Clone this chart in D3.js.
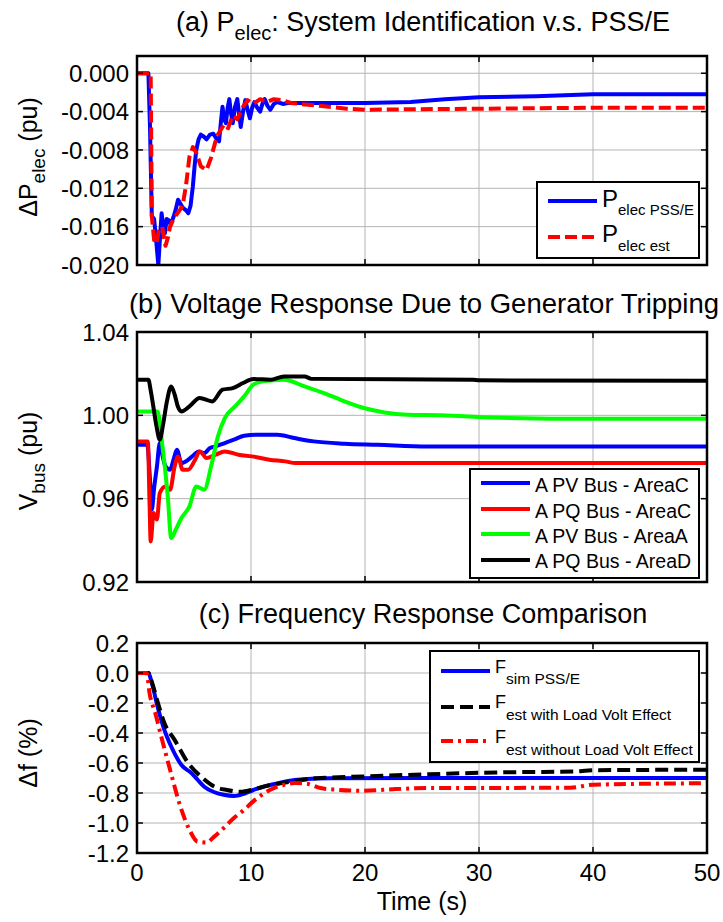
<!DOCTYPE html>
<html>
<head>
<meta charset="utf-8">
<script src="https://cdn.jsdelivr.net/npm/d3@7"></script>
<style>
  body { margin: 0; background: #fff; }
  svg { display: block; font-family: "Liberation Sans", Arial, sans-serif; }
</style>
</head>
<body>
<div id="chart"></div>
<script>
// ---- data ----
var timeTicks = [0, 10, 20, 30, 40, 50];

// (a) P_elec, pu
var pelecTicks = [0, -0.004, -0.008, -0.012, -0.016, -0.020];
var pelecPss = [[0,0],[1.0,0],[1.14,-0.0056],[1.3,-0.0149],[1.5,-0.0152],[1.65,-0.017],[1.87,-0.020],[2.0,-0.0175],[2.16,-0.0146],[2.3,-0.016],[2.45,-0.0167],[2.6,-0.0152],[2.75,-0.0153],[2.95,-0.0158],[3.2,-0.0150],[3.4,-0.0142],[3.6,-0.0132],[3.8,-0.0136],[4.0,-0.0140],[4.3,-0.0143],[4.5,-0.0146],[4.7,-0.0138],[4.9,-0.0118],[5.05,-0.0097],[5.2,-0.0080],[5.4,-0.0069],[5.6,-0.0064],[5.85,-0.0066],[6.1,-0.0069],[6.4,-0.0064],[6.7,-0.0063],[6.95,-0.0068],[7.2,-0.0071],[7.35,-0.0052],[7.5,-0.0035],[7.65,-0.0048],[7.8,-0.0052],[7.95,-0.0036],[8.1,-0.0027],[8.25,-0.0042],[8.4,-0.0052],[8.6,-0.0035],[8.8,-0.0027],[8.95,-0.0042],[9.1,-0.0056],[9.3,-0.0040],[9.5,-0.0028],[9.7,-0.0038],[9.9,-0.0047],[10.1,-0.0036],[10.3,-0.0030],[10.55,-0.0036],[10.8,-0.0040],[11.0,-0.0032],[11.2,-0.0027],[11.45,-0.0034],[11.7,-0.0038],[12.0,-0.0032],[12.3,-0.0030],[12.8,-0.0032],[13.2,-0.0031],[20,-0.0031],[24,-0.0030],[27,-0.0027],[30,-0.0025],[35,-0.0024],[40,-0.0022],[50,-0.0022]];
var pelecEst = [[0,0],[1.2,0],[1.3,-0.0149],[1.5,-0.0174],[1.7,-0.0178],[1.9,-0.0165],[2.2,-0.0160],[2.5,-0.0180],[2.7,-0.0172],[2.9,-0.0160],[3.2,-0.0152],[3.5,-0.0147],[3.8,-0.0142],[4.0,-0.0138],[4.3,-0.0117],[4.6,-0.0087],[4.9,-0.0077],[5.2,-0.0083],[5.6,-0.0097],[6.1,-0.0101],[6.5,-0.0088],[7.0,-0.0066],[7.5,-0.0056],[7.9,-0.0060],[8.4,-0.0044],[8.8,-0.0048],[9.3,-0.0035],[9.7,-0.0028],[10.2,-0.0032],[10.8,-0.0027],[11.4,-0.0030],[12.0,-0.0027],[12.7,-0.0028],[13.5,-0.0031],[14.3,-0.0032],[16,-0.0034],[18.4,-0.0037],[20,-0.0038],[30,-0.0037],[40,-0.0036],[50,-0.0036]];

// (b) bus voltage, pu
var vbusTicks = [0.92, 0.96, 1.00, 1.04];
var vPvAreaC = [[0,0.9859],[0.9,0.9859],[1.14,0.9691],[1.3,0.9547],[1.5,0.9651],[1.75,0.9755],[2.0,0.9867],[2.25,0.9803],[2.5,0.9755],[2.9,0.9739],[3.2,0.9787],[3.5,0.9835],[3.9,0.9771],[4.5,0.9787],[5.0,0.9811],[5.4,0.9827],[5.9,0.9819],[6.4,0.9843],[6.9,0.9851],[7.7,0.9867],[8.5,0.9883],[9.4,0.9902],[10.8,0.9907],[12.3,0.9907],[13.8,0.9891],[15.5,0.9875],[18.2,0.9864],[21.1,0.9859],[25.5,0.9851],[35,0.9851],[50,0.9851]];
var vPqAreaC = [[0,0.9875],[0.95,0.9875],[1.1,0.9580],[1.2,0.9395],[1.45,0.9531],[1.75,0.9500],[2.0,0.9627],[2.5,0.9659],[2.9,0.9643],[3.3,0.9755],[3.6,0.9803],[4.0,0.9739],[4.5,0.9739],[5.1,0.9787],[5.5,0.9827],[6.1,0.9795],[6.9,0.9811],[7.7,0.9827],[8.9,0.9811],[10.1,0.9803],[11.6,0.9787],[13.0,0.9779],[13.9,0.9771],[30,0.9771],[50,0.9771]];
var vPvAreaA = [[0,1.0019],[1.8,1.0019],[2.2,0.9867],[2.7,0.9611],[3.0,0.9411],[3.4,0.9451],[3.9,0.9507],[4.6,0.9563],[5.2,0.9659],[5.9,0.9643],[6.5,0.9755],[7.1,0.9899],[7.7,0.9987],[8.6,1.0043],[9.4,1.0091],[10.2,1.0147],[11.0,1.0163],[12.9,1.0171],[14.7,1.0139],[16.4,1.0107],[18.2,1.0067],[19.9,1.0035],[21.7,1.0014],[23.7,1.0003],[26.7,1.0000],[31.1,0.9990],[37.5,0.9984],[50,0.9984]];
var vPqAreaD = [[0,1.0171],[1.0,1.0171],[1.2,1.0120],[1.43,1.0043],[1.7,0.9950],[2.0,0.9883],[2.3,0.9960],[2.6,1.0060],[3.0,1.0139],[3.3,1.0100],[3.6,1.0040],[3.9,1.0019],[4.6,1.0043],[5.5,1.0083],[6.6,1.0067],[7.5,1.0123],[8.4,1.0131],[9.3,1.0155],[10.2,1.0175],[11.7,1.0171],[12.9,1.0187],[14.7,1.0187],[15.3,1.0175],[29.5,1.0171],[30,1.0168],[50,1.0166]];

// (c) frequency deviation, %
var freqTicks = [0.2, 0.0, -0.2, -0.4, -0.6, -0.8, -1.0, -1.2];
var fSimPss = [[0,0],[1.0,0],[1.3,-0.067],[1.8,-0.223],[2.4,-0.379],[3.0,-0.49],[3.9,-0.613],[4.8,-0.669],[5.3,-0.71],[5.9,-0.758],[6.8,-0.795],[7.6,-0.812],[8.5,-0.82],[9.4,-0.805],[10.2,-0.78],[11.1,-0.758],[12.3,-0.736],[13.4,-0.718],[14.6,-0.709],[16.9,-0.702],[25,-0.700],[50,-0.700]];
var fEstWith = [[0,0],[1.0,0],[1.3,-0.06],[1.8,-0.19],[2.4,-0.334],[3.3,-0.446],[4.5,-0.602],[5.6,-0.69],[6.8,-0.758],[7.9,-0.78],[9.1,-0.792],[10.2,-0.776],[11.7,-0.747],[13.4,-0.725],[15.7,-0.702],[19.8,-0.69],[25.6,-0.675],[31.5,-0.663],[38.2,-0.657],[40,-0.648],[50,-0.645]];
var fEstWithout = [[0,0],[0.85,0],[1.1,-0.134],[1.6,-0.267],[2.2,-0.445],[2.9,-0.645],[3.8,-0.889],[4.6,-1.045],[5.3,-1.123],[6.1,-1.13],[6.8,-1.089],[7.6,-1.034],[8.5,-0.967],[9.4,-0.912],[10.2,-0.856],[11.1,-0.805],[12.0,-0.767],[12.9,-0.745],[13.8,-0.734],[14.9,-0.738],[16.1,-0.767],[17.5,-0.778],[19.8,-0.785],[22.7,-0.774],[25.6,-0.767],[38,-0.765],[40,-0.745],[50,-0.735]];

// ---- drawing ----
var W = 723, H = 922;
var svg = d3.select("#chart").append("svg").attr("width", W).attr("height", H);

var x = d3.scaleLinear().domain([0, 50]).range([137, 707]);

function fmt(d, n) { return d.toFixed(n).replace("\u2212", "-"); }

function drawPanel(cfg) {
  var y = d3.scaleLinear().domain(cfg.domain).range([cfg.bottom, cfg.top]);
  var g = svg.append("g");
  var clipId = "clip-" + cfg.id;
  svg.append("clipPath").attr("id", clipId).append("rect")
    .attr("x", 137).attr("y", cfg.top).attr("width", 570).attr("height", cfg.bottom - cfg.top);

  // grid
  g.selectAll(".gx").data(timeTicks.slice(1, -1)).enter().append("line")
    .attr("x1", d => x(d)).attr("x2", d => x(d))
    .attr("y1", cfg.top).attr("y2", cfg.bottom)
    .style("stroke", "#b4b4b4").style("stroke-width", 1);
  g.selectAll(".gy").data(cfg.ticks.filter(d => y(d) > cfg.top + 2 && y(d) < cfg.bottom - 2)).enter().append("line")
    .attr("x1", 137).attr("x2", 707)
    .attr("y1", d => y(d)).attr("y2", d => y(d))
    .style("stroke", "#b4b4b4").style("stroke-width", 1);

  // series
  var line = d3.line().x(d => x(d[0])).y(d => y(d[1])).curve(cfg.curve || d3.curveLinear);
  var lines = g.append("g").attr("clip-path", "url(#" + clipId + ")");
  cfg.series.forEach(function(s) {
    lines.append("path")
      .attr("d", line(s.data))
      .style("fill", "none")
      .style("stroke", s.color)
      .style("stroke-width", 4)
      .style("stroke-linejoin", "round")
      .style("stroke-dasharray", s.dash || null);
  });

  // ticks (inside, all four sides)
  var tk = 6;
  timeTicks.forEach(function(t) {
    g.append("line").attr("x1", x(t)).attr("x2", x(t)).attr("y1", cfg.bottom).attr("y2", cfg.bottom - tk)
      .style("stroke", "#000").style("stroke-width", 1.5);
    g.append("line").attr("x1", x(t)).attr("x2", x(t)).attr("y1", cfg.top).attr("y2", cfg.top + tk)
      .style("stroke", "#000").style("stroke-width", 1.5);
  });
  cfg.ticks.forEach(function(v) {
    g.append("line").attr("x1", 137).attr("x2", 137 + tk).attr("y1", y(v)).attr("y2", y(v))
      .style("stroke", "#000").style("stroke-width", 1.5);
    g.append("line").attr("x1", 707).attr("x2", 707 - tk).attr("y1", y(v)).attr("y2", y(v))
      .style("stroke", "#000").style("stroke-width", 1.5);
    g.append("text").attr("x", 129).attr("y", y(v)).attr("dy", "0.36em")
      .attr("text-anchor", "end").style("font-size", "24px")
      .text(fmt(v, cfg.digits));
  });

  // frame
  g.append("rect").attr("x", 137).attr("y", cfg.top).attr("width", 570).attr("height", cfg.bottom - cfg.top)
    .style("fill", "none").style("stroke", "#000").style("stroke-width", 2.5);

  return {g: g, y: y};
}

function subText(parent, xPos, yPos, parts) {
  // parts: [text, size, dy]
  var t = parent.append("text").attr("x", xPos).attr("y", yPos);
  parts.forEach(function(p) {
    t.append("tspan").attr("dy", p[2] || 0).style("font-size", p[1] + "px").text(p[0]);
  });
  return t;
}

function drawLegend(box, entries) {
  var lg = svg.append("g");
  lg.append("rect").attr("x", box.x).attr("y", box.y).attr("width", box.w).attr("height", box.h)
    .style("fill", "#fff").style("stroke", "#000").style("stroke-width", 2);
  entries.forEach(function(e) {
    lg.append("line").attr("x1", box.x + 11).attr("x2", box.x + 60).attr("y1", e.y).attr("y2", e.y)
      .style("stroke", e.color).style("stroke-width", 4).style("stroke-dasharray", e.dash || null);
    subText(lg, box.x + 65, e.base, e.parts);
  });
}

// (a)
drawPanel({
  id: "a", top: 56, bottom: 265, domain: [-0.020, 0.0018], ticks: pelecTicks, digits: 3,
  series: [
    {data: pelecPss, color: "#0000ff"},
    {data: pelecEst, color: "#ff0000", dash: "12,5"}
  ]
});
// (b)
drawPanel({
  id: "b", top: 332, bottom: 582, domain: [0.92, 1.04], ticks: vbusTicks, digits: 2,
  curve: d3.curveMonotoneX,
  series: [
    {data: vPvAreaC, color: "#0000ff"},
    {data: vPqAreaC, color: "#ff0000"},
    {data: vPvAreaA, color: "#00ff00"},
    {data: vPqAreaD, color: "#000000"}
  ]
});
// (c)
drawPanel({
  id: "c", top: 643, bottom: 853, domain: [-1.2, 0.2], ticks: freqTicks, digits: 1,
  curve: d3.curveMonotoneX,
  series: [
    {data: fSimPss, color: "#0000ff"},
    {data: fEstWith, color: "#000000", dash: "13,6"},
    {data: fEstWithout, color: "#ff0000", dash: "12,5,3,5"}
  ]
});

// x tick labels
svg.selectAll(".xt").data(timeTicks).enter().append("text")
  .attr("x", d => x(d)).attr("y", 881).attr("text-anchor", "middle")
  .style("font-size", "24px").text(d => d);
svg.append("text").attr("x", 422).attr("y", 910).attr("text-anchor", "middle")
  .style("font-size", "25px").text("Time (s)");

// titles
subText(svg, 0, 31, [["(a) P", 27], ["elec", 20, 9], [": System Identification v.s. PSS/E", 27, -9]])
  .attr("text-anchor", "middle").attr("x", 423);
svg.append("text").attr("x", 424).attr("y", 313).attr("text-anchor", "middle")
  .style("font-size", "27.5px").text("(b) Voltage Response Due to Generator Tripping");
svg.append("text").attr("x", 423).attr("y", 623).attr("text-anchor", "middle")
  .style("font-size", "27px").text("(c) Frequency Response Comparison");

// y labels
subText(svg, 0, 0, [["\u0394P", 25], ["elec", 19, 8], [" (pu)", 25, -8]])
  .attr("text-anchor", "middle")
  .attr("transform", "translate(37,157) rotate(-90)");
subText(svg, 0, 0, [["V", 25], ["bus", 19, 8], [" (pu)", 25, -8]])
  .attr("text-anchor", "middle")
  .attr("transform", "translate(37,461) rotate(-90)");
svg.append("text").attr("text-anchor", "middle")
  .attr("transform", "translate(37,753) rotate(-90)")
  .style("font-size", "25px").text("\u0394f (%)");

// legends
drawLegend({x: 537, y: 182, w: 162, h: 76}, [
  {y: 201, base: 207, color: "#0000ff", parts: [["P", 24], ["elec PSS/E", 15, 8]]},
  {y: 237, base: 242, color: "#ff0000", dash: "12,5", parts: [["P", 24], ["elec est", 15, 9]]}
]);
drawLegend({x: 470, y: 469, w: 229, h: 109}, [
  {y: 483, base: 492, color: "#0000ff", parts: [["A PV Bus - AreaC", 19.5]]},
  {y: 509, base: 518, color: "#ff0000", parts: [["A PQ Bus - AreaC", 19.5]]},
  {y: 534, base: 543, color: "#00ff00", parts: [["A PV Bus - AreaA", 19.5]]},
  {y: 560, base: 568, color: "#000000", parts: [["A PQ Bus - AreaD", 19.5]]}
]);
drawLegend({x: 430, y: 651, w: 269, h: 111}, [
  {y: 671, base: 673, color: "#0000ff", parts: [["F", 18], ["sim  PSS/E", 15.5, 11]]},
  {y: 707, base: 708, color: "#000000", dash: "13,6", parts: [["F", 18], ["est with Load Volt Effect", 15.5, 12]]},
  {y: 741, base: 743, color: "#ff0000", dash: "12,5,3,5", parts: [["F", 18], ["est without Load Volt Effect", 15.5, 12]]}
]);
</script>
</body>
</html>
